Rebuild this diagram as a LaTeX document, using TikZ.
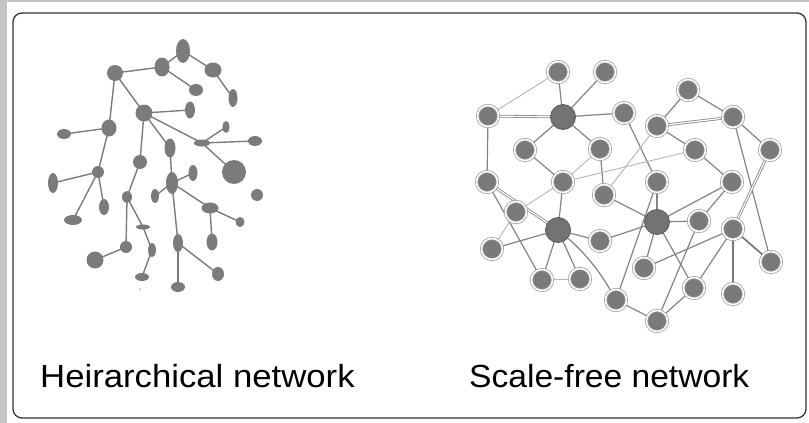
\documentclass[tikz,border=0pt]{standalone}
\usepackage{fontspec}
\setmainfont{Liberation Sans}
\usetikzlibrary{shapes.geometric}
\pgfdeclarelayer{back0}
\pgfdeclarelayer{edges}
\pgfsetlayers{back0,edges,main}
\definecolor{blob}{HTML}{7B7B7B}
\definecolor{edgec}{HTML}{848484}
\definecolor{faint}{HTML}{B5B5B5}
\definecolor{nodef}{HTML}{7A7A7A}
\definecolor{hubf}{HTML}{737373}
\definecolor{ringc}{HTML}{9C9C9C}
\definecolor{stripc}{HTML}{C4C4C4}
\tikzset{
  hb/.style={ellipse, fill=blob, inner sep=0pt, draw=none},
  hedge/.style={draw=blob, line width=1.4pt},
  sfn/.style={circle, fill=nodef, minimum size=21pt, inner sep=0pt, draw=ringc, double=white, double distance=1.6pt, line width=0.75pt},
  hub/.style={circle, fill=hubf, minimum size=25pt, inner sep=0pt, draw=black!65, line width=0.8pt},
  sedge/.style={draw=edgec, line width=1.2pt},
  fedge/.style={draw=faint, line width=0.9pt},
  dedge/.style={draw=edgec, double=white, double distance=1.2pt, line width=0.8pt},
  tedge/.style={draw=edgec!90!black, line width=1.7pt},
  lbl/.style={anchor=base west, inner sep=0pt, font=\fontsize{32}{36}\selectfont}
}
\begin{document}
\begin{tikzpicture}[x=1pt, y=-1pt]
\path[use as bounding box] (0,0) rectangle (809,423);
\begin{pgfonlayer}{back0}
\fill[white] (0,0) rectangle (809,423);
\fill[stripc] (0,0) rectangle (7,423);
\fill[stripc] (0,0) rectangle (809,2);
\end{pgfonlayer}
\draw[line width=1.3pt, draw=black!80, rounded corners=9pt] (13,13) rectangle (806,418);

% ---------- Hierarchical network ----------
\node[hb, minimum width=14pt, minimum height=24pt] (hA) at (183,51) {};
\node[hb, minimum width=15pt, minimum height=19pt] (hB) at (162,67) {};
\node[hb, minimum width=16pt, minimum height=16pt] (hC) at (115,73) {};
\node[hb, minimum width=17pt, minimum height=15pt] (hD) at (213,70) {};
\node[hb, minimum width=14pt, minimum height=12pt] (hE) at (196,90) {};
\node[hb, minimum width=9pt, minimum height=18pt] (hF) at (233,98) {};
\node[hb, minimum width=17pt, minimum height=17pt] (hG) at (144,113) {};
\node[hb, minimum width=10pt, minimum height=17pt] (hH) at (190,110) {};
\node[hb, minimum width=15pt, minimum height=17pt] (hI) at (109,128) {};
\node[hb, minimum width=14pt, minimum height=10pt] (hJ) at (64,134) {};
\node[hb, minimum width=7pt, minimum height=12pt] (hK) at (226,127) {};
\node[hb, minimum width=16pt, minimum height=7pt] (hL) at (202,143) {};
\node[hb, minimum width=14pt, minimum height=10pt] (hM) at (255,141) {};
\node[hb, minimum width=11pt, minimum height=19pt] (hN) at (170,148) {};
\node[hb, minimum width=24pt, minimum height=24pt] (hO) at (234,172) {};
\node[hb, minimum width=14pt, minimum height=14pt] (hQ) at (140,162) {};
\node[hb, minimum width=12pt, minimum height=12pt] (hP) at (98,172) {};
\node[hb, minimum width=9pt, minimum height=16pt] (hT) at (193,173) {};
\node[hb, minimum width=12pt, minimum height=22pt] (hS) at (172,183) {};
\node[hb, minimum width=10pt, minimum height=20pt] (hR) at (53,183) {};
\node[hb, minimum width=8pt, minimum height=14pt] (hU) at (155,196) {};
\node[hb, minimum width=12pt, minimum height=12pt] (hV) at (257,195) {};
\node[hb, minimum width=10pt, minimum height=12pt] (hW) at (127,197) {};
\node[hb, minimum width=10pt, minimum height=16pt] (hX) at (104,207) {};
\node[hb, minimum width=17pt, minimum height=11pt] (hY) at (210,208) {};
\node[hb, minimum width=18pt, minimum height=10pt] (hZ) at (73,220) {};
\node[hb, minimum width=9pt, minimum height=10pt] (hAB) at (240,222) {};
\node[hb, minimum width=14pt, minimum height=5pt] (hAA) at (143,227) {};
\node[hb, minimum width=10pt, minimum height=18pt] (hAC) at (178,243) {};
\node[hb, minimum width=11pt, minimum height=17pt] (hAD) at (212,242) {};
\node[hb, minimum width=12pt, minimum height=12pt] (hAE) at (126,247) {};
\node[hb, minimum width=8pt, minimum height=14pt] (hAG) at (152,250) {};
\node[hb, minimum width=17pt, minimum height=17pt] (hAF) at (95,260) {};
\node[hb, minimum width=12pt, minimum height=14pt] (hAH) at (218,274) {};
\node[hb, minimum width=14pt, minimum height=8pt] (hAI) at (142,277) {};
\node[hb, minimum width=14pt, minimum height=10pt] (hAJ) at (178,287) {};
\node[hb, minimum width=1.5pt, minimum height=1.5pt] (hdot) at (140,289) {};

\begin{pgfonlayer}{edges}
\foreach \a/\b in {hB/hA, hC/hB, hA/hD, hD/hF, hB/hE, hC/hG, hC/hI, hG/hH, hG/hN, hG/hL,
  hL/hK, hL/hM, hL/hO, hG/hQ, hI/hJ, hI/hP, hP/hR, hP/hZ, hP/hX, hQ/hW, hW/hAE, hAE/hAF,
  hW/hAA, hAA/hAG, hAG/hAI, hN/hS, hS/hT, hS/hU, hS/hY, hY/hAB, hY/hAD, hS/hAC, hAC/hAJ, hAC/hAH}
  \draw[hedge] (\a.center) -- (\b.center);
\end{pgfonlayer}

% ---------- Scale-free network ----------
\node[sfn] (s1) at (558,72) {};
\node[sfn] (s2) at (605,72) {};
\node[sfn] (s3) at (488,116) {};
\node[hub] (s4) at (563,117) {};
\node[sfn] (s5) at (624,113) {};
\node[sfn] (s6) at (688,90) {};
\node[sfn] (s7) at (733,117) {};
\node[sfn] (s8) at (657,126) {};
\node[sfn] (s9) at (525,150) {};
\node[sfn] (s10) at (600,149) {};
\node[sfn] (s11) at (695,150) {};
\node[sfn] (s12) at (770,150) {};
\node[sfn] (s13) at (487,182) {};
\node[sfn] (s14) at (563,182) {};
\node[sfn] (s15) at (657,182) {};
\node[sfn] (s16) at (732,182) {};
\node[sfn] (s17) at (604,195) {};
\node[sfn] (s18) at (516,212) {};
\node[hub] (s19) at (558,230) {};
\node[hub] (s20) at (657,222) {};
\node[sfn] (s21) at (699,221) {};
\node[sfn] (s22) at (733,229) {};
\node[sfn] (s23) at (492,249) {};
\node[sfn] (s24) at (600,241) {};
\node[sfn] (s25) at (644,268) {};
\node[sfn] (s26) at (771,262) {};
\node[sfn] (s27) at (542,280) {};
\node[sfn] (s28) at (580,279) {};
\node[sfn] (s29) at (694,288) {};
\node[sfn] (s30) at (733,294) {};
\node[sfn] (s31) at (616,300) {};
\node[sfn] (s32) at (657,321) {};

\begin{pgfonlayer}{edges}
\foreach \a/\b in {s1/s4, s2/s4, s4/s5, s4/s9, s4/s10, s3/s13, s9/s14, s10/s17, s14/s19,
  s5/s15, s6/s7, s8/s11, s7/s12, s7/s26, s11/s16, s16/s20, s16/s21, s15/s20, s15/s31,
  s17/s20, s20/s21, s20/s24, s20/s25, s20/s29, s21/s32, s22/s25, s22/s29, s29/s32,
  s31/s32, s13/s27, s19/s23, s19/s24, s19/s27, s19/s28, s6/s8}
  \draw[sedge] (\a.center) -- (\b.center);
\foreach \a/\b in {s3/s1, s10/s14, s14/s18, s18/s23, s14/s11, s8/s17, s27/s28}
  \draw[fedge] (\a.center) -- (\b.center);
\foreach \a/\b in {s3/s4, s8/s7, s13/s19, s12/s22}
  \draw[dedge] (\a.center) -- (\b.center);
\foreach \a/\b in {s22/s30, s22/s26}
  \draw[tedge] (\a.center) -- (\b.center);
\draw[sedge] (s19.center) .. controls (590,255) and (605,280) .. (s31.center);
\end{pgfonlayer}

% ---------- Labels ----------
\node[lbl] (t1) at (40,387) {\scalebox{1.085}[1]{Heirarchical network}};
\node[lbl] (t2) at (469,387) {\scalebox{1.05}[1]{Scale-free network}};
\end{tikzpicture}
\end{document}
